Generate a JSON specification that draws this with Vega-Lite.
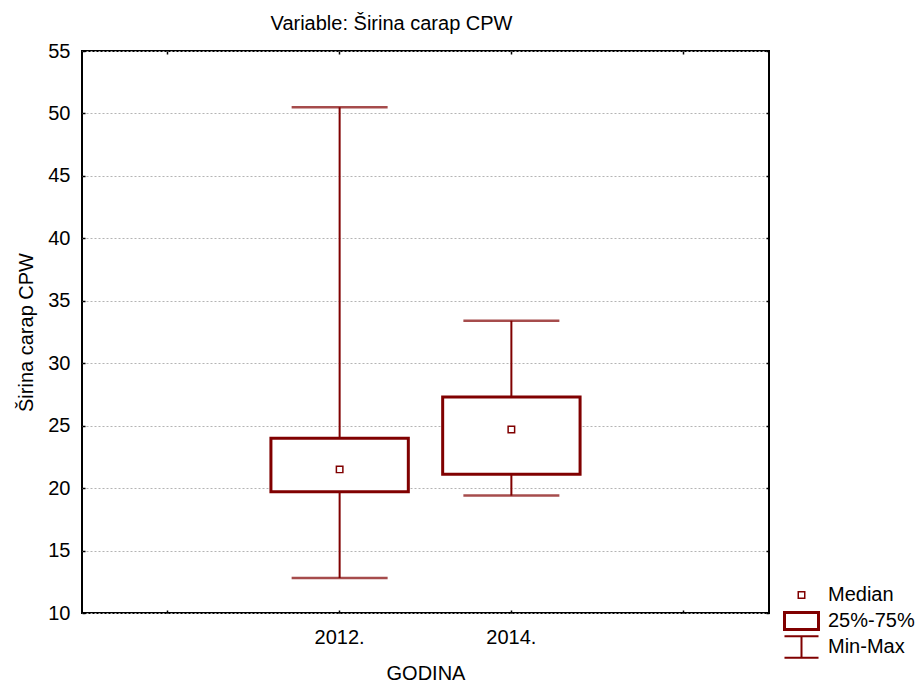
{
  "$schema": "https://vega.github.io/schema/vega-lite/v6.json",
  "width": 687,
  "height": 562,
  "autosize": {"type": "none"},
  "padding": {"left": 82, "top": 51, "right": 151, "bottom": 71},
  "background": "white",
  "config": {
    "font": "Liberation Sans",
    "view": {"stroke": "#000000", "strokeWidth": 2},
    "axis": {
      "labelFont": "Liberation Sans",
      "titleFont": "Liberation Sans",
      "labelColor": "#000000",
      "titleColor": "#000000",
      "labelFontSize": 20,
      "titleFontSize": 20,
      "titleFontWeight": "normal",
      "domain": false,
      "tickColor": "#000000",
      "tickWidth": 1.5
    }
  },
  "title": {
    "text": "Variable: Širina carap CPW",
    "font": "Liberation Sans",
    "fontSize": 20,
    "fontWeight": "normal",
    "color": "#000000",
    "anchor": "middle",
    "dx": -34,
    "offset": 7
  },
  "data": {
    "values": [
      {"year": "2012.", "min": 12.8, "q1": 19.7, "median": 21.5, "q3": 24.0, "max": 50.5},
      {"year": "2014.", "min": 19.4, "q1": 21.1, "median": 24.7, "q3": 27.3, "max": 33.4}
    ]
  },
  "resolve": {"axis": {"x": "independent", "y": "independent"}},
  "layer": [
    {
      "mark": {"type": "rule", "color": "#800000", "strokeWidth": 2},
      "encoding": {
        "x": {
          "field": "year", "type": "nominal",
          "scale": {"domain": ["a", "2012.", "2014.", "b"], "paddingInner": 0, "paddingOuter": 0},
          "axis": {
            "orient": "bottom",
            "title": "GODINA",
            "labelAngle": 0,
            "labelExpr": "datum.label == 'a' || datum.label == 'b' ? '' : datum.label",
            "tickSize": -3,
            "labelPadding": 17,
            "titlePadding": 16,
            "grid": false
          }
        },
        "y": {
          "field": "min", "type": "quantitative",
          "scale": {"domain": [10, 55], "nice": false, "zero": false},
          "axis": {
            "orient": "left",
            "title": "Širina carap CPW",
            "values": [10, 15, 20, 25, 30, 35, 40, 45, 50, 55],
            "grid": true,
            "gridColor": "#b4b4b4",
            "gridDash": [2, 2],
            "gridWidth": 1,
            "tickSize": -3,
            "labelPadding": 15,
            "titlePadding": 11
          }
        },
        "y2": {"field": "max"}
      }
    },
    {
      "mark": {"type": "tick", "color": "#800000", "size": 96, "thickness": 2.5},
      "encoding": {
        "x": {
          "field": "year", "type": "nominal",
          "axis": {"orient": "top", "labels": false, "title": null, "tickSize": -3, "grid": false, "domain": false}
        },
        "y": {
          "field": "min", "type": "quantitative",
          "axis": {"orient": "right", "labels": false, "title": null, "tickSize": -3, "grid": false, "domain": false, "values": [10, 15, 20, 25, 30, 35, 40, 45, 50, 55]}
        }
      }
    },
    {
      "mark": {"type": "tick", "color": "#800000", "size": 96, "thickness": 2.5},
      "encoding": {
        "x": {"field": "year", "type": "nominal", "axis": null},
        "y": {"field": "max", "type": "quantitative", "axis": null}
      }
    },
    {
      "mark": {"type": "bar", "fill": "white", "stroke": "#800000", "strokeWidth": 3, "width": {"band": 0.8}},
      "encoding": {
        "x": {"field": "year", "type": "nominal", "axis": null},
        "y": {"field": "q1", "type": "quantitative", "axis": null},
        "y2": {"field": "q3"}
      }
    },
    {
      "mark": {"type": "point", "filled": true, "color": "#800000", "opacity": 1, "size": 1369, "strokeWidth": 0},
      "encoding": {
        "x": {"field": "year", "type": "nominal", "axis": null},
        "y": {"field": "median", "type": "quantitative", "axis": null},
        "shape": {
          "datum": "Median",
          "scale": {
            "domain": ["Median", "25%-75%", "Min-Max"],
            "range": [
              "M-0.216,-0.216H0.216V0.216H-0.216Z M-0.135,-0.135V0.135H0.135V-0.135Z",
              "M-1,-0.54H1V0.54H-1Z M-0.838,-0.378V0.378H0.838V-0.378Z",
              "M-0.92,-0.634H0.92V-0.526H-0.92Z M-0.92,0.526H0.92V0.634H-0.92Z M-0.054,-0.526H0.054V0.526H-0.054Z"
            ]
          },
          "legend": {
            "title": null,
            "orient": "none",
            "legendX": 701,
            "legendY": 531,
            "padding": 0,
            "symbolSize": 1369,
            "symbolFillColor": "#800000",
            "symbolStrokeWidth": 0,
            "symbolOpacity": 1,
            "clipHeight": 26,
            "rowPadding": 0,
            "labelOffset": 8,
            "labelFont": "Liberation Sans",
            "labelFontSize": 20,
            "labelColor": "#000000",
            "labelLimit": 200
          }
        }
      }
    }
  ]
}
